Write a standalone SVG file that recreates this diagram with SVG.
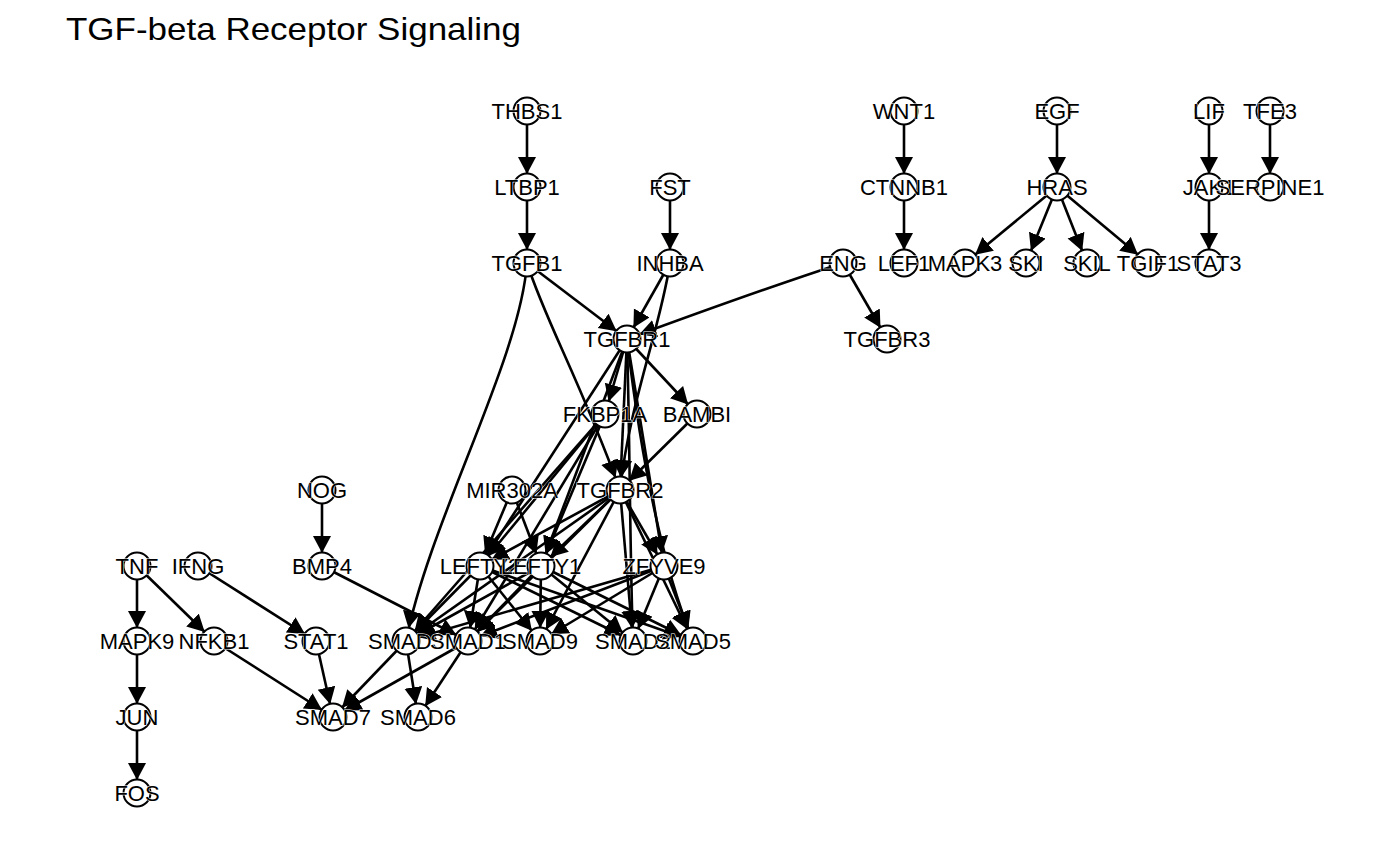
<svg xmlns="http://www.w3.org/2000/svg" width="1400" height="865" viewBox="0 0 1400 865">
<style>
.e{fill:none;stroke:#000;stroke-width:2.6;marker-end:url(#ah)}
.n circle{fill:#fff;stroke:#000;stroke-width:2}
.n text{font-family:"Liberation Sans",Arial,sans-serif;font-size:22px;text-anchor:middle;fill:#000;stroke:#fff;stroke-width:1;paint-order:stroke}
.t{font-family:"Liberation Sans",Arial,sans-serif;font-size:32px;fill:#000}
</style>
<defs>
<marker id="ah" markerUnits="userSpaceOnUse" markerWidth="40" markerHeight="20" refX="30" refY="9" orient="auto">
<path d="M0,0 L17,9 L0,18 z" fill="#000"/>
</marker>
</defs>
<rect width="1400" height="865" fill="#fff"/>
<text class="t" x="66" y="40" textLength="455" lengthAdjust="spacingAndGlyphs">TGF-beta Receptor Signaling</text>
<g id="edges">
<path class="e" d="M527,111 L527,187"/>
<path class="e" d="M527,187 L527,263"/>
<path class="e" d="M670,187 L670,263"/>
<path class="e" d="M904,111 L904,187"/>
<path class="e" d="M904,187 L904,263"/>
<path class="e" d="M1057,111 L1057,187"/>
<path class="e" d="M1057,187 L965,263"/>
<path class="e" d="M1057,187 L1026,263"/>
<path class="e" d="M1057,187 L1087,263"/>
<path class="e" d="M1057,187 L1148,263"/>
<path class="e" d="M1209,111 L1209,187"/>
<path class="e" d="M1209,187 L1209,263"/>
<path class="e" d="M1270,111 L1270,187"/>
<path class="e" d="M843,263 L887,339"/>
<path class="e" d="M843,263 Q760,290 627,339"/>
<path class="e" d="M527,263 L627,339"/>
<path class="e" d="M670,263 L627,339"/>
<path class="e" d="M670,263 C660,330 630,400 620,490"/>
<path class="e" d="M527,263 C545,320 580,380 620,490"/>
<path class="e" d="M527,263 C520,360 430,520 406,641"/>
<path class="e" d="M627,339 L697,414"/>
<path class="e" d="M697,414 L620,490"/>
<path class="e" d="M627,339 L620,490"/>
<path class="e" d="M627,339 L605,414"/>
<path class="e" d="M605,414 L480,566"/>
<path class="e" d="M605,414 L541,566"/>
<path class="e" d="M605,414 L406,641"/>
<path class="e" d="M605,414 L468,641"/>
<path class="e" d="M627,339 L664,566"/>
<path class="e" d="M627,339 C640,450 660,560 693,641"/>
<path class="e" d="M627,339 C630,450 630,560 633,641"/>
<path class="e" d="M627,339 L541,566"/>
<path class="e" d="M627,339 L480,566"/>
<path class="e" d="M512,490 L480,566"/>
<path class="e" d="M512,490 L541,566"/>
<path class="e" d="M620,490 L480,566"/>
<path class="e" d="M620,490 L541,566"/>
<path class="e" d="M620,490 L664,566"/>
<path class="e" d="M620,490 L406,641"/>
<path class="e" d="M620,490 L468,641"/>
<path class="e" d="M620,490 L540,641"/>
<path class="e" d="M620,490 L633,641"/>
<path class="e" d="M620,490 L693,641"/>
<path class="e" d="M480,566 L406,641"/>
<path class="e" d="M480,566 L468,641"/>
<path class="e" d="M480,566 L540,641"/>
<path class="e" d="M480,566 L633,641"/>
<path class="e" d="M480,566 L693,641"/>
<path class="e" d="M541,566 L406,641"/>
<path class="e" d="M541,566 L468,641"/>
<path class="e" d="M541,566 L540,641"/>
<path class="e" d="M541,566 L633,641"/>
<path class="e" d="M541,566 L693,641"/>
<path class="e" d="M664,566 L406,641"/>
<path class="e" d="M664,566 L468,641"/>
<path class="e" d="M664,566 L540,641"/>
<path class="e" d="M664,566 L633,641"/>
<path class="e" d="M664,566 L693,641"/>
<path class="e" d="M322,490 L322,566"/>
<path class="e" d="M322,566 L468,641"/>
<path class="e" d="M137,566 L137,641"/>
<path class="e" d="M137,566 L214,641"/>
<path class="e" d="M198,566 L316,641"/>
<path class="e" d="M137,641 L137,717"/>
<path class="e" d="M137,717 L137,793"/>
<path class="e" d="M214,641 L333,717"/>
<path class="e" d="M316,641 L333,717"/>
<path class="e" d="M406,641 L333,717"/>
<path class="e" d="M406,641 L418,717"/>
<path class="e" d="M468,641 L333,717"/>
<path class="e" d="M468,641 L418,717"/>
</g>
<g id="n-THBS1" class="n"><circle cx="527" cy="111" r="13.5"/><text x="527" y="119">THBS1</text></g>
<g id="n-WNT1" class="n"><circle cx="904" cy="111" r="13.5"/><text x="904" y="119">WNT1</text></g>
<g id="n-EGF" class="n"><circle cx="1057" cy="111" r="13.5"/><text x="1057" y="119">EGF</text></g>
<g id="n-LIF" class="n"><circle cx="1209" cy="111" r="13.5"/><text x="1209" y="119">LIF</text></g>
<g id="n-TFE3" class="n"><circle cx="1270" cy="111" r="13.5"/><text x="1270" y="119">TFE3</text></g>
<g id="n-LTBP1" class="n"><circle cx="527" cy="187" r="13.5"/><text x="527" y="195">LTBP1</text></g>
<g id="n-FST" class="n"><circle cx="670" cy="187" r="13.5"/><text x="670" y="195">FST</text></g>
<g id="n-CTNNB1" class="n"><circle cx="904" cy="187" r="13.5"/><text x="904" y="195">CTNNB1</text></g>
<g id="n-HRAS" class="n"><circle cx="1057" cy="187" r="13.5"/><text x="1057" y="195">HRAS</text></g>
<g id="n-JAK1" class="n"><circle cx="1209" cy="187" r="13.5"/><text x="1209" y="195">JAK1</text></g>
<g id="n-SERPINE1" class="n"><circle cx="1270" cy="187" r="13.5"/><text x="1270" y="195">SERPINE1</text></g>
<g id="n-TGFB1" class="n"><circle cx="527" cy="263" r="13.5"/><text x="527" y="271">TGFB1</text></g>
<g id="n-INHBA" class="n"><circle cx="670" cy="263" r="13.5"/><text x="670" y="271">INHBA</text></g>
<g id="n-ENG" class="n"><circle cx="843" cy="263" r="13.5"/><text x="843" y="271">ENG</text></g>
<g id="n-LEF1" class="n"><circle cx="904" cy="263" r="13.5"/><text x="904" y="271">LEF1</text></g>
<g id="n-MAPK3" class="n"><circle cx="965" cy="263" r="13.5"/><text x="965" y="271">MAPK3</text></g>
<g id="n-SKI" class="n"><circle cx="1026" cy="263" r="13.5"/><text x="1026" y="271">SKI</text></g>
<g id="n-SKIL" class="n"><circle cx="1087" cy="263" r="13.5"/><text x="1087" y="271">SKIL</text></g>
<g id="n-TGIF1" class="n"><circle cx="1148" cy="263" r="13.5"/><text x="1148" y="271">TGIF1</text></g>
<g id="n-STAT3" class="n"><circle cx="1209" cy="263" r="13.5"/><text x="1209" y="271">STAT3</text></g>
<g id="n-TGFBR1" class="n"><circle cx="627" cy="339" r="13.5"/><text x="627" y="347">TGFBR1</text></g>
<g id="n-TGFBR3" class="n"><circle cx="887" cy="339" r="13.5"/><text x="887" y="347">TGFBR3</text></g>
<g id="n-FKBP1A" class="n"><circle cx="605" cy="414" r="13.5"/><text x="605" y="422">FKBP1A</text></g>
<g id="n-BAMBI" class="n"><circle cx="697" cy="414" r="13.5"/><text x="697" y="422">BAMBI</text></g>
<g id="n-NOG" class="n"><circle cx="322" cy="490" r="13.5"/><text x="322" y="498">NOG</text></g>
<g id="n-MIR302A" class="n"><circle cx="512" cy="490" r="13.5"/><text x="512" y="498">MIR302A</text></g>
<g id="n-TGFBR2" class="n"><circle cx="620" cy="490" r="13.5"/><text x="620" y="498">TGFBR2</text></g>
<g id="n-TNF" class="n"><circle cx="137" cy="566" r="13.5"/><text x="137" y="574">TNF</text></g>
<g id="n-IFNG" class="n"><circle cx="198" cy="566" r="13.5"/><text x="198" y="574">IFNG</text></g>
<g id="n-BMP4" class="n"><circle cx="322" cy="566" r="13.5"/><text x="322" y="574">BMP4</text></g>
<g id="n-LEFTY2" class="n"><circle cx="480" cy="566" r="13.5"/><text x="480" y="574">LEFTY2</text></g>
<g id="n-LEFTY1" class="n"><circle cx="541" cy="566" r="13.5"/><text x="541" y="574">LEFTY1</text></g>
<g id="n-ZFYVE9" class="n"><circle cx="664" cy="566" r="13.5"/><text x="664" y="574">ZFYVE9</text></g>
<g id="n-MAPK9" class="n"><circle cx="137" cy="641" r="13.5"/><text x="137" y="649">MAPK9</text></g>
<g id="n-NFKB1" class="n"><circle cx="214" cy="641" r="13.5"/><text x="214" y="649">NFKB1</text></g>
<g id="n-STAT1" class="n"><circle cx="316" cy="641" r="13.5"/><text x="316" y="649">STAT1</text></g>
<g id="n-SMAD3" class="n"><circle cx="406" cy="641" r="13.5"/><text x="406" y="649">SMAD3</text></g>
<g id="n-SMAD1" class="n"><circle cx="468" cy="641" r="13.5"/><text x="468" y="649">SMAD1</text></g>
<g id="n-SMAD9" class="n"><circle cx="540" cy="641" r="13.5"/><text x="540" y="649">SMAD9</text></g>
<g id="n-SMAD2" class="n"><circle cx="633" cy="641" r="13.5"/><text x="633" y="649">SMAD2</text></g>
<g id="n-SMAD5" class="n"><circle cx="693" cy="641" r="13.5"/><text x="693" y="649">SMAD5</text></g>
<g id="n-JUN" class="n"><circle cx="137" cy="717" r="13.5"/><text x="137" y="725">JUN</text></g>
<g id="n-SMAD7" class="n"><circle cx="333" cy="717" r="13.5"/><text x="333" y="725">SMAD7</text></g>
<g id="n-SMAD6" class="n"><circle cx="418" cy="717" r="13.5"/><text x="418" y="725">SMAD6</text></g>
<g id="n-FOS" class="n"><circle cx="137" cy="793" r="13.5"/><text x="137" y="801">FOS</text></g>
</svg>
